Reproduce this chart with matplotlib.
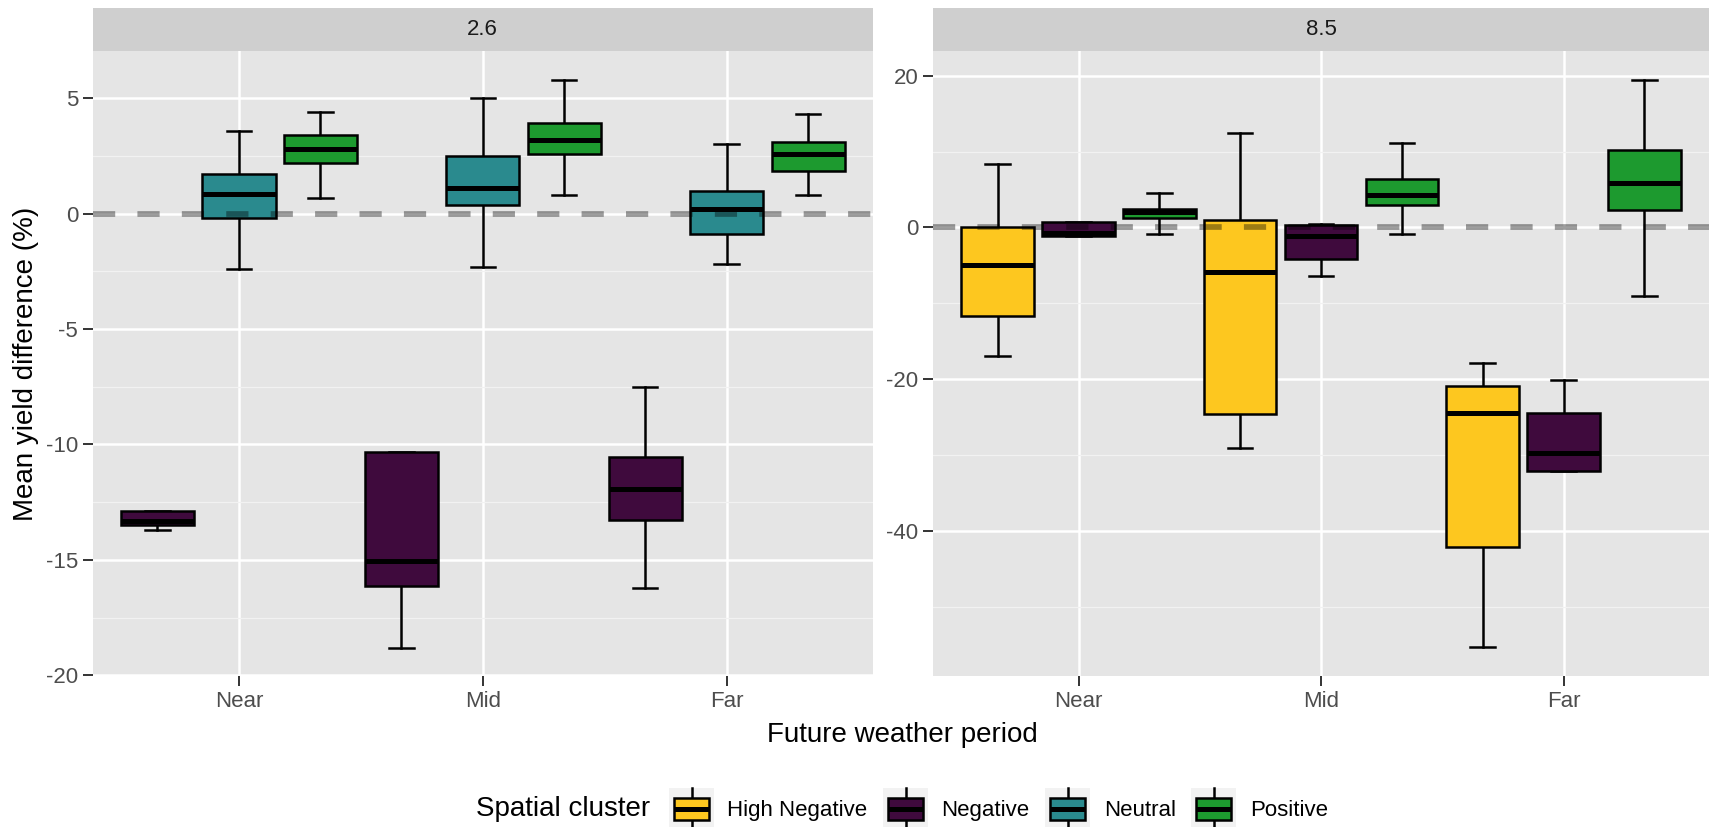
import numpy as np
import matplotlib
matplotlib.use("Agg")
import matplotlib.pyplot as plt
from matplotlib.patches import Rectangle, Patch
from matplotlib.lines import Line2D
from matplotlib.legend_handler import HandlerBase

plt.rcParams['font.family'] = ['Liberation Sans', 'DejaVu Sans']
plt.rcParams['axes.unicode_minus'] = False

#--------------------------------------------------------------------------------
# Data
#--------------------------------------------------------------------------------
periods = ["Near", "Mid", "Far"]
clusters = ["High Negative", "Negative", "Neutral", "Positive"]
cluster_colors = ["#FDC71F", "#3F0A3D", "#2A8A8E", "#1D9A2F"]

# RCP 2.6
rcp26_period = ["Near", "Near", "Near", "Mid", "Mid", "Mid", "Far", "Far", "Far"]
rcp26_cluster = ["Negative", "Neutral", "Positive"] * 3
rcp26_whislo = [-13.72, -2.41, 0.67, -18.80, -2.29, 0.81, -16.20, -2.19, 0.81]
rcp26_q1 = [-13.50, -0.17, 2.20, -16.12, 0.37, 2.58, -13.28, -0.90, 1.86]
rcp26_med = [-13.32, 0.85, 2.79, -15.03, 1.11, 3.21, -11.95, 0.21, 2.60]
rcp26_q3 = [-12.87, 1.70, 3.41, -10.34, 2.48, 3.91, -10.56, 0.99, 3.11]
rcp26_whishi = [-12.87, 3.59, 4.40, -10.34, 5.00, 5.79, -7.50, 3.01, 4.30]

# RCP 8.5
rcp85_period = ["Near", "Near", "Near", "Mid", "Mid", "Mid", "Far", "Far", "Far"]
rcp85_cluster = ["High Negative", "Negative", "Positive"] * 3
rcp85_whislo = [-16.98, -1.08, -0.82, -29.12, -6.34, -0.91, -55.34, -32.14, -9.06]
rcp85_q1 = [-11.60, -1.08, 1.22, -24.53, -4.17, 2.96, -42.05, -32.14, 2.30]
rcp85_med = [-5.01, -0.70, 2.00, -5.86, -1.08, 4.29, -24.41, -29.67, 5.92]
rcp85_q3 = [0.10, 0.76, 2.48, 1.00, 0.27, 6.35, -20.84, -24.41, 10.15]
rcp85_whishi = [8.34, 0.76, 4.54, 12.39, 0.46, 11.18, -17.82, -20.12, 19.46]

facet_titles = ["2.6", "8.5"]

#--------------------------------------------------------------------------------
# Figure layout (pixel positions of the reference, 1709 x 827)
#--------------------------------------------------------------------------------
W, H = 1709, 827
fig = plt.figure(figsize=(W / 100, H / 100), dpi=100)

panelBottom = 1 - 676 / H
panelTop = 1 - 51.4 / H
stripTop = 1 - 8 / H
panelX = [(92.6, 873), (933, 1709)]

boxLw = 1.8
medLw = 3.6


def draw_panel(ax, period, cluster, lo, q1, med, q3, hi):
    for iP, p in enumerate(periods):
        idx = [i for i in range(len(period)) if period[i] == p]
        idx.sort(key=lambda i: clusters.index(cluster[i]))
        n = len(idx)
        for k, i in enumerate(idx):
            pos = iP + 1 + (k - (n - 1) / 2) * 0.334
            stats = [dict(whislo=lo[i], q1=q1[i], med=med[i], q3=q3[i], whishi=hi[i], fliers=[])]
            b = ax.bxp(stats, positions=[pos], widths=0.30, capwidths=0.1,
                       patch_artist=True, showfliers=False, manage_ticks=False,
                       boxprops=dict(edgecolor='black', linewidth=boxLw),
                       medianprops=dict(color='black', linewidth=medLw, solid_capstyle='butt'),
                       whiskerprops=dict(color='black', linewidth=boxLw),
                       capprops=dict(color='black', linewidth=boxLw))
            b['boxes'][0].set_facecolor(cluster_colors[clusters.index(cluster[i])])
            for art in b['boxes'] + b['medians']:
                art.set_zorder(3)
            for art in b['whiskers'] + b['caps']:
                art.set_zorder(2.5)


panelData = [
    (rcp26_period, rcp26_cluster, rcp26_whislo, rcp26_q1, rcp26_med, rcp26_q3, rcp26_whishi),
    (rcp85_period, rcp85_cluster, rcp85_whislo, rcp85_q1, rcp85_med, rcp85_q3, rcp85_whishi),
]
yMajor = [[-20, -15, -10, -5, 0, 5], [-40, -20, 0, 20]]
yMinor = [[-17.5, -12.5, -7.5, -2.5, 2.5], [-50, -30, -10, 10]]
yLims = [(-20.03, 7.03), (-59.1, 23.2)]

for iFacet in range(2):
    x0, x1 = panelX[iFacet]
    ax = fig.add_axes([x0 / W, panelBottom, (x1 - x0) / W, panelTop - panelBottom])
    ax.set_facecolor('#E5E5E5')
    for s in ax.spines.values():
        s.set_visible(False)
    ax.set_axisbelow(True)

    draw_panel(ax, *panelData[iFacet])

    # Zero reference line
    ax.axhline(0, color='black', alpha=0.38, linewidth=4.1, linestyle=(0, (3.9, 3.9)), zorder=4)

    ax.set_xlim(0.4, 3.6)
    ax.set_ylim(*yLims[iFacet])
    ax.set_xticks([1, 2, 3])
    ax.set_xticklabels(periods)
    ax.set_yticks(yMajor[iFacet])
    ax.set_yticklabels([str(v) for v in yMajor[iFacet]])
    ax.set_yticks(yMinor[iFacet], minor=True)
    ax.tick_params(which='major', length=7, width=1.4, color='#333333',
                   labelsize=16, labelcolor='#4D4D4D', pad=3.5)
    ax.tick_params(which='minor', length=0)
    ax.grid(which='major', color='white', linewidth=1.8)
    ax.grid(which='minor', axis='y', color='#F2F2F2', linewidth=0.9)

    # Facet strip
    axS = fig.add_axes([x0 / W, panelTop, (x1 - x0) / W, stripTop - panelTop])
    axS.set_facecolor('#CFCFCF')
    axS.set_xticks([])
    axS.set_yticks([])
    for s in axS.spines.values():
        s.set_visible(False)
    axS.text(0.5, 0.5, facet_titles[iFacet], ha='center', va='center',
             fontsize=16, color='#1A1A1A', transform=axS.transAxes)

# Axis titles
fig.text(26.5 / W, 1 - 364 / H, 'Mean yield difference (%)', rotation=90,
         ha='center', va='center', fontsize=20, color='black')
fig.text(902 / W, 1 - 735 / H, 'Future weather period', ha='center', va='center',
         fontsize=20, color='black')


#--------------------------------------------------------------------------------
# Legend with boxplot keys
#--------------------------------------------------------------------------------
class BoxKeyHandler(HandlerBase):
    def create_artists(self, legend, orig_handle, xdescent, ydescent, width, height, fontsize, trans):
        x0, y0 = -xdescent, -ydescent
        bg = Rectangle((x0, y0), width, height, facecolor='#F2F2F2', edgecolor='none', transform=trans)
        bw = width * 0.78
        bh = height * 0.51
        bx = x0 + (width - bw) / 2
        by = y0 + (height - bh) / 2
        whisk = Line2D([x0 + width / 2] * 2, [y0, y0 + height], color='black', linewidth=boxLw, transform=trans)
        box = Rectangle((bx, by), bw, bh, facecolor=orig_handle.get_facecolor(), edgecolor='black',
                        linewidth=boxLw, transform=trans)
        med = Line2D([bx, bx + bw], [by + bh / 2] * 2, color='black', linewidth=medLw,
                     solid_capstyle='butt', transform=trans)
        return [bg, whisk, box, med]


handles = [Patch(facecolor=c) for c in cluster_colors]
fig.text(476 / W, 1 - 809 / H, 'Spatial cluster', ha='left', va='center', fontsize=20, color='black')
fig.legend(handles, clusters, handler_map={Patch: BoxKeyHandler()},
           loc='center left', bbox_to_anchor=(669 / W, 1 - 809 / H), ncol=4, frameon=False,
           fontsize=16, handlelength=2.03, handleheight=2.6, handletextpad=0.6,
           columnspacing=0.7, borderpad=0, borderaxespad=0)

fig.savefig('out.png', dpi=100)
